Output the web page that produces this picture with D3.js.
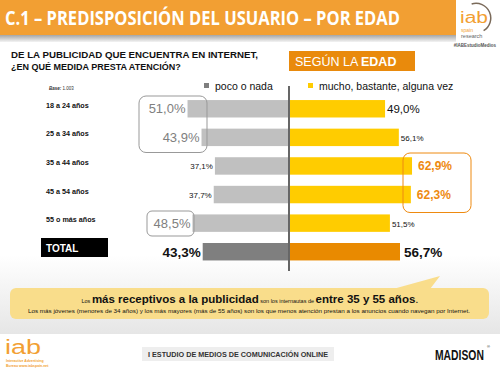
<!DOCTYPE html>
<html>
<head>
<meta charset="utf-8">
<script src="https://cdn.jsdelivr.net/npm/d3@7"></script>
<style>
  body { margin: 0; background: #fff; }
  svg text { font-family: "Liberation Sans", Arial, sans-serif; }
</style>
</head>
<body>
<script>
// chart data
const ages = ['18 a 24 años', '25 a 34 años', '35 a 44 años', '45 a 54 años', '55 o más años'];
const pocoNada = [51.0, 43.9, 37.1, 37.7, 48.5];
const mucho = [49.0, 56.1, 62.9, 62.3, 51.5];
const totalLabel = 'TOTAL';
const totalValues = [43.3, 56.7];
const legendLabels = ['poco o nada', 'mucho, bastante, alguna vez'];

const fmt = v => d3.format('.1f')(v).replace('.', ',') + '%';

const width = 500, height = 371;
const svg = d3.select('body').append('svg')
  .attr('width', width)
  .attr('height', height)
  .attr('viewBox', `0 0 ${width} ${height}`);

const defs = svg.append('defs');
const bg = defs.append('linearGradient').attr('id', 'bg').attr('x1', 0).attr('x2', 0).attr('y1', 0).attr('y2', 1);
bg.append('stop').attr('offset', '0').attr('stop-color', '#ffffff');
bg.append('stop').attr('offset', '1').attr('stop-color', '#e6e6e6');
const shade = defs.append('linearGradient').attr('id', 'shade').attr('x1', 0).attr('x2', 0).attr('y1', 0).attr('y2', 1);
shade.append('stop').attr('offset', '0').attr('stop-color', '#9a9a9a');
shade.append('stop').attr('offset', '1').attr('stop-color', '#f4f4f4');

// backgrounds
svg.append('rect').attr('x', 0).attr('y', 0).attr('width', width).attr('height', height).attr('fill', '#fff');
svg.append('rect').attr('x', 0).attr('y', 255).attr('width', width).attr('height', 79).attr('fill', 'url(#bg)');

// header
svg.append('rect').attr('x', 0).attr('y', 34).attr('width', 456).attr('height', 8).attr('fill', 'url(#shade)');
svg.append('rect').attr('x', 0).attr('y', 0).attr('width', 456).attr('height', 35).attr('fill', '#F29F33');
svg.append('text')
  .attr('x', 5).attr('y', 25)
  .style('font-family', '"Open Sans", sans-serif')
  .attr('font-weight', 'bold').attr('font-size', 19)
  .attr('fill', '#fff')
  .attr('textLength', 395).attr('lengthAdjust', 'spacingAndGlyphs')
  .text('C.1 – PREDISPOSICIÓN DEL USUARIO – POR EDAD');

// iab logo (header)
const logo = svg.append('g');
logo.append('path')
  .attr('d', d3.arc()({ innerRadius: 14, outerRadius: 15.5, startAngle: -0.3, endAngle: 2.6 }))
  .attr('transform', 'translate(476,18)')
  .attr('fill', '#7a6a5a');
logo.append('text').attr('x', 460).attr('y', 23).attr('font-size', 16).attr('fill', '#F29F33')
  .attr('textLength', 28).attr('lengthAdjust', 'spacingAndGlyphs').text('iab');
logo.append('text').attr('x', 461).attr('y', 32).attr('font-size', 5).attr('fill', '#F29F33').text('spain');
logo.append('text').attr('x', 461).attr('y', 38).attr('font-size', 5.5).attr('fill', '#666').text('research');
svg.append('text').attr('x', 496).attr('y', 46.5).attr('text-anchor', 'end')
  .attr('font-size', 4.5).attr('font-weight', 'bold').attr('fill', '#555').text('#IABEstudioMedios');

// question
svg.append('text').attr('x', 11).attr('y', 58).attr('font-size', 9).attr('font-weight', 'bold').attr('fill', '#111')
  .attr('textLength', 247).attr('lengthAdjust', 'spacingAndGlyphs')
  .text('DE LA PUBLICIDAD QUE ENCUENTRA EN INTERNET,');
svg.append('text').attr('x', 11).attr('y', 70).attr('font-size', 9).attr('font-weight', 'bold').attr('fill', '#111')
  .text('¿EN QUÉ MEDIDA PRESTA ATENCIÓN?');

// "según la edad" box
svg.append('rect').attr('x', 289).attr('y', 51).attr('width', 126).attr('height', 20).attr('fill', '#E98A0C');
svg.append('text').attr('x', 295).attr('y', 66).attr('font-size', 12.5).attr('fill', '#fff')
  .call(t => {
    t.append('tspan').text('SEGÚN LA ');
    t.append('tspan').attr('font-weight', 'bold').text('EDAD');
  });

// legend
const legendX = [204, 308];
const legendColors = ['#7f7f7f', '#FFCC00'];
legendLabels.forEach((l, i) => {
  svg.append('rect').attr('x', legendX[i]).attr('y', 83).attr('width', 5).attr('height', 5).attr('fill', legendColors[i]);
  svg.append('text').attr('x', legendX[i] + 11).attr('y', 90).attr('font-size', 10.5).attr('fill', '#111').text(l);
});
svg.append('text').attr('x', 49).attr('y', 90).attr('font-size', 4.5).attr('fill', '#333')
  .call(t => {
    t.append('tspan').attr('font-style', 'italic').attr('font-weight', 'bold').text('Base: ');
    t.append('tspan').text('1.003');
  });

// scales
const center = 289;
const rows = ages.concat([totalLabel]);
const y = d3.scaleBand().domain(rows).range([88.9, 271.6]).padding(0.39);
const xLeft = d3.scaleLinear().domain([0, 100]).range([center - 1, center - 1 - 197]);
const xRight = d3.scaleLinear().domain([0, 100]).range([center + 1, center + 1 + 194]);

// bars: age groups
const g = svg.append('g');
g.selectAll('.bar-left').data(ages).enter().append('rect')
  .attr('x', (d, i) => xLeft(pocoNada[i]))
  .attr('y', d => y(d))
  .attr('width', (d, i) => xLeft(0) - xLeft(pocoNada[i]))
  .attr('height', y.bandwidth())
  .attr('fill', '#C0C0C0');
g.selectAll('.bar-right').data(ages).enter().append('rect')
  .attr('x', xRight(0))
  .attr('y', d => y(d))
  .attr('width', (d, i) => xRight(mucho[i]) - xRight(0))
  .attr('height', y.bandwidth())
  .attr('fill', '#FFCC00');

// total bars
g.append('rect').attr('x', xLeft(totalValues[0])).attr('y', y(totalLabel))
  .attr('width', xLeft(0) - xLeft(totalValues[0])).attr('height', y.bandwidth()).attr('fill', '#7f7f7f');
g.append('rect').attr('x', xRight(0)).attr('y', y(totalLabel))
  .attr('width', xRight(totalValues[1]) - xRight(0)).attr('height', y.bandwidth()).attr('fill', '#E98A00');

// center axis line
svg.append('line').attr('x1', center).attr('x2', center).attr('y1', 86).attr('y2', 271)
  .attr('stroke', '#000').attr('stroke-width', 1.2);

// category labels
g.selectAll('.cat').data(ages).enter().append('text')
  .attr('x', 46).attr('y', d => y(d) + y.bandwidth() / 2 - 1)
  .attr('font-size', 7.2).attr('font-weight', 'bold').attr('fill', '#111')
  .text(d => d);
svg.append('rect').attr('x', 41).attr('y', 238).attr('width', 67).attr('height', 19).attr('fill', '#000');
svg.append('text').attr('x', 46).attr('y', 252).attr('font-size', 10).attr('font-weight', 'bold').attr('fill', '#fff').text(totalLabel);

// value labels - highlighted ones drawn larger
const leftBig = [true, true, false, false, true];
const rightBig = [false, false, true, true, false];
g.selectAll('.val-left').data(ages).enter().append('text')
  .attr('x', (d, i) => xLeft(pocoNada[i]) - 2)
  .attr('y', (d, i) => y(d) + y.bandwidth() / 2 + (leftBig[i] ? 4.5 : 3.5))
  .attr('text-anchor', 'end')
  .attr('font-size', (d, i) => leftBig[i] ? 13 : 8)
  .attr('fill', (d, i) => leftBig[i] ? '#808080' : '#111')
  .text((d, i) => fmt(pocoNada[i]));
g.selectAll('.val-right').data(ages).enter().append('text')
  .attr('x', (d, i) => xRight(mucho[i]) + (rightBig[i] ? 6 : 2))
  .attr('y', (d, i) => y(d) + y.bandwidth() / 2 + (i === 0 || rightBig[i] ? 4.5 : 3.5))
  .attr('font-size', (d, i) => rightBig[i] ? 12 : (i === 0 ? 11.5 : 8))
  .attr('font-weight', (d, i) => rightBig[i] ? 'bold' : 'normal')
  .attr('fill', (d, i) => rightBig[i] ? '#EE8A10' : '#111')
  .text((d, i) => fmt(mucho[i]));
svg.append('text').attr('x', xLeft(totalValues[0]) - 2).attr('y', y(totalLabel) + y.bandwidth() / 2 + 5)
  .attr('text-anchor', 'end').attr('font-size', 13.5).attr('font-weight', 'bold').attr('fill', '#111')
  .text(fmt(totalValues[0]));
svg.append('text').attr('x', xRight(totalValues[1]) + 4).attr('y', y(totalLabel) + y.bandwidth() / 2 + 5)
  .attr('font-size', 13.5).attr('font-weight', 'bold').attr('fill', '#111')
  .text(fmt(totalValues[1]));

// highlight boxes
svg.append('rect').attr('x', 139).attr('y', 96).attr('width', 68).attr('height', 56.5).attr('rx', 7)
  .attr('fill', 'none').attr('stroke', '#999').attr('stroke-width', 1);
svg.append('rect').attr('x', 147).attr('y', 211).attr('width', 47).attr('height', 25).attr('rx', 5)
  .attr('fill', 'none').attr('stroke', '#999').attr('stroke-width', 1);
svg.append('rect').attr('x', 403).attr('y', 153).attr('width', 68).attr('height', 59.5).attr('rx', 7)
  .attr('fill', 'none').attr('stroke', '#EE8A10').attr('stroke-width', 1);

// callout
svg.append('path').attr('d', 'M393,289 L440,276 L430,289 Z').attr('fill', '#F9DD8B');
svg.append('rect').attr('x', 10).attr('y', 288).attr('width', 479).attr('height', 31).attr('rx', 6).attr('fill', '#F9DD8B');
svg.append('text').attr('x', 250).attr('y', 303).attr('text-anchor', 'middle').attr('fill', '#111')
  .call(t => {
    t.append('tspan').attr('font-size', 5.5).text('Los ');
    t.append('tspan').attr('font-size', 11.5).attr('font-weight', 'bold').text('más receptivos a la publicidad');
    t.append('tspan').attr('font-size', 5.5).text(' son los internautas de ');
    t.append('tspan').attr('font-size', 11.5).attr('font-weight', 'bold').text('entre 35 y 55 años');
    t.append('tspan').attr('font-size', 11.5).text('.');
  });
svg.append('text').attr('x', 249).attr('y', 313).attr('text-anchor', 'middle').attr('font-size', 5.5).attr('fill', '#111')
  .attr('textLength', 442).attr('lengthAdjust', 'spacingAndGlyphs')
  .text('Los más jóvenes (menores de 34 años) y los más mayores (más de 55 años) son los que menos atención prestan a los anuncios cuando navegan por  Internet.');

// footer
svg.append('rect').attr('x', 0).attr('y', 334).attr('width', width).attr('height', 37).attr('fill', '#fff');
svg.append('text').attr('x', 5).attr('y', 354).attr('font-size', 20).attr('fill', '#F29F33')
  .attr('textLength', 36).attr('lengthAdjust', 'spacingAndGlyphs').text('iab');
svg.append('text').attr('x', 6).attr('y', 362).attr('font-size', 3.5).attr('font-weight', 'bold').attr('fill', '#F29F33').text('Interactive Advertising');
svg.append('text').attr('x', 6).attr('y', 367).attr('font-size', 3.5).attr('font-weight', 'bold').attr('fill', '#F29F33').text('Bureau www.iabspain.net');
svg.append('rect').attr('x', 142).attr('y', 347).attr('width', 192).attr('height', 14).attr('fill', '#eeeeee');
svg.append('text').attr('x', 148).attr('y', 357).attr('font-size', 6.8).attr('font-weight', 'bold').attr('fill', '#333')
  .attr('textLength', 180).attr('lengthAdjust', 'spacingAndGlyphs')
  .text('I ESTUDIO DE MEDIOS DE COMUNICACIÓN ONLINE');
// condensed wordmark: horizontal squeeze via transform
svg.append('g').attr('transform', 'translate(435,360) scale(0.74,1)')
  .append('text').attr('x', 0).attr('y', 0).attr('font-size', 14).attr('font-weight', 'bold').attr('fill', '#111')
  .text('MADISON');
svg.append('text').attr('x', 487).attr('y', 348).attr('font-size', 4).attr('fill', '#111').text('®');
</script>
</body>
</html>
